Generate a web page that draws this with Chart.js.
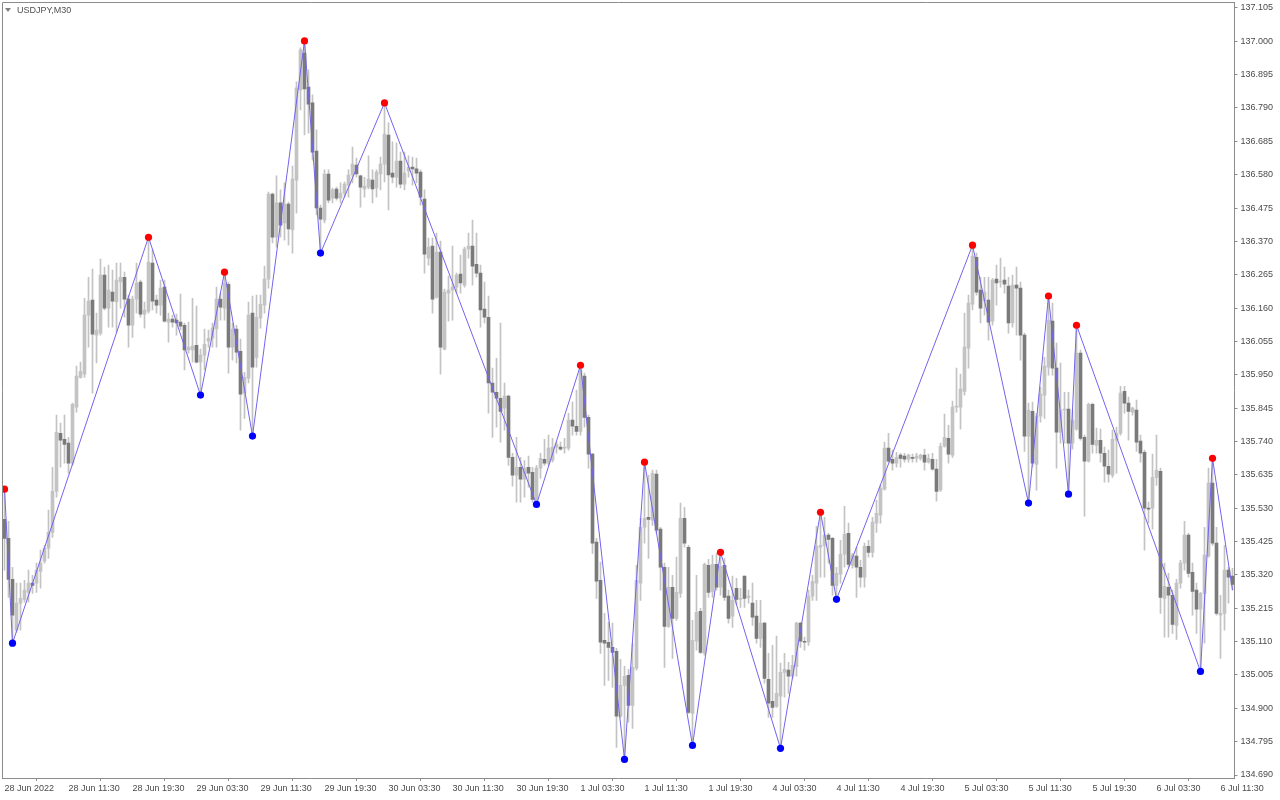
<!DOCTYPE html>
<html>
<head>
<meta charset="utf-8">
<title>USDJPY,M30</title>
<script src="https://cdn.jsdelivr.net/npm/chart.js@4/dist/chart.umd.min.js"></script>
<style>
  html, body { margin: 0; padding: 0; background: #fff; }
  #wrap { position: relative; width: 1280px; height: 800px; overflow: hidden; }
  #chart { display: block; }
  .sym { position: absolute; left: 5px; top: 4px; font: 9px "Liberation Sans", Arial, sans-serif; color: #505050; line-height: 12px; }
  .sym .tri { display: inline-block; width: 0; height: 0; border-left: 3px solid transparent; border-right: 3px solid transparent;
              border-top: 4px solid #808080; margin: 0 6px 1px 0; vertical-align: middle; }
</style>
</head>
<body>
<div id="wrap">
  <canvas id="chart" width="1280" height="800"></canvas>
  <div class="sym"><span class="tri"></span>USDJPY,M30</div>
</div>
<script>
// M30 bars (bar 0 = 28 Jun 2022)
const opens = [
  135.495,135.435,135.306,135.146,135.231,135.243,135.265,135.294,135.294,135.331,
  135.363,135.404,135.454,135.583,135.766,135.747,135.735,135.672,135.848,135.942,
  135.952,136.138,136.185,136.075,136.081,136.264,136.160,136.210,136.179,136.242,
  136.257,136.188,136.106,136.188,136.242,136.141,136.150,136.302,136.185,136.169,
  136.226,136.116,136.125,136.122,136.116,136.106,136.028,136.028,136.043,135.990,
  136.012,136.056,136.065,136.094,136.188,136.160,136.235,136.037,136.094,136.024,
  135.892,135.939,136.144,136.005,136.128,136.169,136.251,136.519,136.383,136.491,
  136.428,136.487,136.406,136.563,136.847,136.963,136.856,136.806,136.654,136.475,
  136.437,136.582,136.506,136.535,136.506,136.522,136.547,136.579,136.610,136.576,
  136.535,136.541,136.563,136.538,136.582,136.613,136.705,136.585,136.572,136.623,
  136.550,136.591,136.604,136.598,136.588,136.503,136.317,136.355,136.194,136.336,
  136.031,136.207,136.217,136.226,136.267,136.232,136.346,136.355,136.298,136.270,
  136.157,136.131,135.924,135.895,135.876,135.845,135.883,135.690,135.634,135.659,
  135.621,135.659,135.643,135.558,135.656,135.684,135.672,135.681,135.722,135.722,
  135.719,135.719,135.807,135.788,135.772,135.946,135.816,135.700,135.423,135.303,
  135.114,135.108,135.092,135.079,134.875,134.972,135.004,134.909,135.026,135.294,
  135.470,135.501,135.492,135.637,135.464,135.344,135.158,135.281,135.183,135.262,
  135.498,135.407,134.884,135.111,135.205,135.073,135.350,135.268,135.353,135.281,
  135.350,135.253,135.190,135.278,135.243,135.316,135.249,135.231,135.190,135.120,
  135.168,134.991,134.922,134.906,134.938,135.013,135.020,135.001,135.032,135.168,
  135.111,135.108,135.253,135.294,135.407,135.413,135.445,135.435,135.287,135.322,
  135.385,135.451,135.350,135.379,135.344,135.313,135.410,135.391,135.483,135.508,
  135.590,135.719,135.684,135.672,135.697,135.694,135.684,135.690,135.687,135.687,
  135.697,135.675,135.684,135.653,135.587,135.725,135.750,135.697,135.848,135.848,
  135.898,136.034,136.172,136.320,136.217,136.182,136.185,136.119,136.251,136.242,
  136.248,136.229,136.113,136.232,136.223,136.075,135.757,135.835,135.668,135.820,
  135.886,135.974,136.119,135.971,135.769,135.839,135.842,135.735,135.779,136.018,
  135.753,135.678,135.857,135.728,135.744,135.703,135.662,135.634,135.744,135.766,
  135.898,135.861,135.832,135.839,135.741,135.706,135.530,135.530,135.627,135.646,
  135.246,135.281,135.256,135.161,135.294,135.357,135.445,135.328,135.272,135.212,
  135.262,135.379,135.609,135.420,135.193,135.199,135.335,135.316
];
const highs = [
  135.590,135.489,135.344,135.294,135.294,135.303,135.335,135.319,135.357,135.398,
  135.413,135.524,135.659,135.823,135.798,135.823,135.753,135.861,135.977,135.990,
  136.191,136.257,136.283,136.144,136.314,136.289,136.295,136.280,136.302,136.302,
  136.273,136.201,136.198,136.302,136.248,136.179,136.383,136.343,136.201,136.248,
  136.248,136.144,136.138,136.141,136.204,136.113,136.116,136.191,136.166,136.031,
  136.094,136.091,136.113,136.226,136.207,136.273,136.242,136.113,136.106,136.062,
  135.958,136.179,136.198,136.201,136.201,136.292,136.525,136.522,136.576,136.532,
  136.554,136.494,136.607,136.872,136.979,137.001,136.910,136.831,136.721,136.484,
  136.595,136.595,136.538,136.541,136.554,136.557,136.595,136.667,136.632,136.579,
  136.572,136.639,136.595,136.595,136.635,136.806,136.743,136.683,136.680,136.651,
  136.651,136.639,136.635,136.632,136.595,136.532,136.380,136.380,136.396,136.371,
  136.220,136.261,136.355,136.270,136.327,136.352,136.396,136.437,136.396,136.295,
  136.242,136.198,135.971,136.002,136.113,135.924,135.886,135.703,135.753,135.690,
  135.681,135.694,135.659,135.665,135.703,135.747,135.760,135.750,135.738,135.738,
  135.750,135.829,135.864,135.902,135.980,135.955,135.823,135.703,135.435,135.360,
  135.199,135.171,135.168,135.089,135.054,135.032,135.023,135.105,135.350,135.498,
  135.675,135.634,135.650,135.650,135.470,135.357,135.344,135.319,135.376,135.546,
  135.533,135.413,135.177,135.319,135.215,135.357,135.369,135.382,135.388,135.391,
  135.372,135.272,135.316,135.309,135.278,135.316,135.272,135.294,135.240,135.240,
  135.171,135.073,135.098,135.127,135.042,135.073,135.045,135.067,135.171,135.171,
  135.124,135.272,135.319,135.473,135.517,135.501,135.451,135.438,135.344,135.429,
  135.536,135.483,135.388,135.407,135.366,135.420,135.429,135.501,135.555,135.602,
  135.738,135.766,135.713,135.706,135.703,135.703,135.700,135.700,135.703,135.700,
  135.716,135.700,135.703,135.684,135.735,135.826,135.791,135.867,135.971,135.952,
  136.144,136.201,136.358,136.333,136.257,136.257,136.257,136.254,136.295,136.317,
  136.289,136.257,136.264,136.289,136.242,136.081,135.861,135.864,135.829,135.911,
  136.005,136.198,136.176,136.050,135.987,135.895,135.895,135.839,136.106,136.028,
  135.760,135.861,135.861,135.782,135.779,135.722,135.713,135.776,135.785,135.914,
  135.914,135.880,135.848,135.870,135.760,135.713,135.549,135.700,135.760,135.656,
  135.357,135.325,135.272,135.306,135.366,135.489,135.451,135.357,135.294,135.265,
  135.470,135.656,135.687,135.470,135.256,135.413,135.344,135.341
];
const lows = [
  135.335,135.249,135.105,135.139,135.146,135.234,135.234,135.262,135.265,135.278,
  135.357,135.372,135.438,135.565,135.659,135.672,135.640,135.665,135.832,135.939,
  135.942,136.037,135.892,135.987,136.075,136.154,136.100,136.100,136.084,136.160,
  136.131,136.037,136.068,136.144,136.131,136.097,136.144,136.154,136.144,136.138,
  136.116,136.053,136.100,136.075,136.091,135.965,136.018,135.990,135.987,135.886,
  135.965,136.037,136.037,136.037,136.122,136.122,135.955,135.996,135.987,135.776,
  135.813,135.924,135.757,135.974,136.097,136.144,136.223,136.365,136.352,136.383,
  136.374,136.358,136.333,136.459,136.784,136.705,136.711,136.626,136.453,136.333,
  136.428,136.491,136.491,136.500,136.491,136.509,136.509,136.554,136.572,136.478,
  136.509,136.535,136.491,136.509,136.532,136.557,136.469,136.554,136.541,136.538,
  136.532,136.572,136.547,136.554,136.484,136.270,136.295,136.144,136.191,135.952,
  136.028,136.119,136.122,136.207,136.207,136.226,136.317,136.232,136.257,136.100,
  136.113,135.829,135.753,135.785,135.738,135.776,135.665,135.599,135.549,135.549,
  135.565,135.596,135.549,135.542,135.624,135.665,135.665,135.675,135.703,135.713,
  135.703,135.713,135.760,135.760,135.760,135.785,135.656,135.388,135.246,135.073,
  134.972,134.988,134.966,134.777,134.871,134.739,134.856,134.837,135.020,135.240,
  135.420,135.372,135.476,135.451,135.272,135.029,135.155,135.057,135.177,135.249,
  135.407,134.884,134.783,135.083,135.073,135.067,135.249,135.249,135.272,135.256,
  135.240,135.168,135.155,135.227,135.218,135.218,135.231,135.161,135.105,135.092,
  134.979,134.871,134.871,134.903,134.774,134.935,134.947,134.994,135.001,135.092,
  135.083,135.098,135.240,135.240,135.313,135.313,135.357,135.256,135.243,135.294,
  135.344,135.344,135.341,135.249,135.281,135.281,135.376,135.376,135.454,135.483,
  135.587,135.675,135.650,135.659,135.659,135.675,135.675,135.675,135.675,135.681,
  135.650,135.672,135.650,135.552,135.583,135.722,135.672,135.690,135.832,135.779,
  135.886,135.971,136.154,136.201,136.113,136.138,136.059,136.106,136.169,136.226,
  136.207,136.081,136.100,136.075,135.996,135.709,135.546,135.659,135.587,135.801,
  135.813,135.949,135.949,135.656,135.735,135.735,135.574,135.716,135.776,135.744,
  135.505,135.675,135.703,135.703,135.675,135.612,135.612,135.627,135.640,135.760,
  135.829,135.744,135.823,135.709,135.675,135.398,135.483,135.464,135.602,135.199,
  135.124,135.124,135.136,135.117,135.278,135.335,135.313,135.193,135.136,135.016,
  135.105,135.376,135.413,135.193,135.057,135.146,135.231,135.272
];
const closes = [
  135.435,135.306,135.193,135.231,135.246,135.272,135.294,135.287,135.335,135.357,
  135.404,135.454,135.583,135.769,135.744,135.731,135.672,135.857,135.946,135.961,
  136.138,136.182,136.078,136.091,136.264,136.160,136.217,136.182,136.248,136.257,
  136.188,136.106,136.188,136.239,136.141,136.154,136.305,136.182,136.169,136.223,
  136.119,136.125,136.116,136.113,136.103,136.028,136.037,136.040,135.990,136.012,
  136.046,136.065,136.097,136.188,136.163,136.239,136.037,136.094,136.021,135.889,
  135.942,136.138,135.974,136.131,136.172,136.251,136.519,136.383,136.491,136.421,
  136.487,136.409,136.566,136.853,136.973,136.850,136.802,136.651,136.475,136.440,
  136.582,136.500,136.532,136.506,136.522,136.550,136.579,136.613,136.582,136.541,
  136.544,136.566,136.535,136.588,136.613,136.708,136.579,136.572,136.623,136.550,
  136.585,136.604,136.598,136.585,136.509,136.330,136.352,136.188,136.336,136.037,
  136.210,136.217,136.226,136.264,136.239,136.346,136.355,136.292,136.270,136.154,
  136.131,135.924,135.895,135.876,135.835,135.883,135.690,135.634,135.659,135.621,
  135.656,135.640,135.558,135.656,135.687,135.672,135.719,135.722,135.731,135.716,
  135.722,135.807,135.788,135.772,135.965,135.816,135.700,135.420,135.300,135.108,
  135.105,135.092,135.076,134.875,134.972,135.001,134.909,135.029,135.303,135.470,
  135.498,135.495,135.640,135.461,135.344,135.158,135.281,135.183,135.265,135.498,
  135.420,134.887,135.114,135.202,135.076,135.353,135.265,135.353,135.281,135.347,
  135.249,135.183,135.240,135.243,135.246,135.246,135.253,135.187,135.120,135.168,
  134.994,134.916,134.903,134.947,135.013,135.023,135.001,135.035,135.168,135.111,
  135.108,135.253,135.300,135.410,135.413,135.445,135.432,135.287,135.325,135.385,
  135.448,135.353,135.382,135.344,135.313,135.410,135.391,135.486,135.514,135.593,
  135.719,135.678,135.672,135.690,135.687,135.684,135.697,135.687,135.694,135.697,
  135.675,135.687,135.653,135.583,135.725,135.753,135.700,135.848,135.851,135.905,
  136.037,136.176,136.324,136.210,136.160,136.210,136.116,136.248,136.239,136.245,
  136.235,136.113,136.232,136.223,136.075,135.757,135.839,135.672,135.820,135.889,
  135.977,136.122,135.971,135.769,135.839,135.842,135.735,135.807,136.018,135.750,
  135.678,135.857,135.731,135.744,135.703,135.662,135.637,135.747,135.766,135.892,
  135.861,135.835,135.845,135.738,135.703,135.530,135.527,135.627,135.650,135.249,
  135.284,135.256,135.164,135.294,135.357,135.445,135.325,135.268,135.212,135.262,
  135.382,135.609,135.420,135.199,135.199,135.335,135.313,135.290
];

// ZigZag turning points: bar index and whether it sits on the bar's high or low
const zzBars  = [0, 2, 36, 49, 55, 62, 75, 79, 95, 133, 144, 155, 160, 172, 179, 194, 204, 208, 242, 256, 261, 266, 268, 299, 302, 307];
const zzSides = ['H','L','H','L','H','L','H','L','H','L','H','L','H','L','H','L','H','L','H','L','H','L','H','L','H','L'];

// axis labels
const timeBars = [0, 16, 32, 48, 64, 80, 96, 112, 128, 144, 160, 176, 192, 208, 224, 240, 256, 272, 288, 304];
const timeLabels = ['28 Jun 2022', '28 Jun 11:30', '28 Jun 19:30', '29 Jun 03:30', '29 Jun 11:30', '29 Jun 19:30',
  '30 Jun 03:30', '30 Jun 11:30', '30 Jun 19:30', '1 Jul 03:30', '1 Jul 11:30', '1 Jul 19:30',
  '4 Jul 03:30', '4 Jul 11:30', '4 Jul 19:30', '5 Jul 03:30', '5 Jul 11:30', '5 Jul 19:30', '6 Jul 03:30', '6 Jul 11:30'];
const priceTicks = [134.690, 134.795, 134.900, 135.005, 135.110, 135.215, 135.320, 135.425, 135.530, 135.635,
  135.740, 135.845, 135.950, 136.055, 136.160, 136.265, 136.370, 136.475, 136.580, 136.685,
  136.790, 136.895, 137.000, 137.105];

const BULL = '#c3c3c3';
const BEAR = '#7a7a7a';
const AXIS = '#8c8c8c';
const FONT = { family: '"Liberation Sans", Arial, sans-serif', size: 9 };

const bodies = opens.map((o, i) => ({ x: i, y: [o, closes[i]] }));
const wicks = lows.map((l, i) => ({ x: i, y: [l, highs[i]] }));
const zigzag = zzBars.map((b, k) => ({ x: b, y: zzSides[k] === 'H' ? highs[b] : lows[b] }));

// left/top edges of the chart window
const framePlugin = {
  id: 'frame',
  afterDraw(chart) {
    const { ctx, chartArea: a } = chart;
    ctx.save();
    ctx.strokeStyle = AXIS;
    ctx.lineWidth = 1;
    ctx.beginPath();
    ctx.moveTo(a.left, a.bottom);
    ctx.lineTo(a.left, a.top);
    ctx.lineTo(a.right, a.top);
    ctx.stroke();
    ctx.restore();
  }
};

// keep tick labels from pushing the plot area inwards
function noOverflow(s) {
  s.paddingTop = 0;
  s.paddingBottom = 0;
  s.paddingLeft = 0;
  s.paddingRight = 0;
}

new Chart(document.getElementById('chart'), {
  data: {
    datasets: [
      {
        type: 'line',
        data: zigzag,
        borderColor: '#7264ee',
        borderWidth: 1,
        tension: 0,
        pointRadius: zigzag.map((p, k) => k === zigzag.length - 1 ? 0 : 3.6),
        pointBackgroundColor: zzSides.map(s => s === 'H' ? '#ff0000' : '#0000ff'),
        pointBorderWidth: 0,
        order: 0
      },
      {
        type: 'bar',
        data: bodies,
        backgroundColor: bodies.map(b => b.y[1] >= b.y[0] ? BULL : BEAR),
        barThickness: 3,
        minBarLength: 1,
        grouped: false,
        order: 1
      },
      {
        type: 'bar',
        data: wicks,
        backgroundColor: BULL,
        barThickness: 1,
        grouped: false,
        order: 2
      }
    ]
  },
  options: {
    responsive: false,
    animation: false,
    devicePixelRatio: 1,
    layout: { autoPadding: false, padding: { left: 2.5, top: 2.5, right: 0, bottom: 0 } },
    plugins: { legend: { display: false }, tooltip: { enabled: false } },
    scales: {
      x: {
        type: 'linear',
        min: -0.5,
        max: 307.5,
        offset: false,
        afterBuildTicks: s => { s.ticks = timeBars.map(v => ({ value: v })); },
        afterFit: s => { s.height = 22; noOverflow(s); },
        ticks: {
          autoSkip: false,
          maxRotation: 0,
          align: 'start',
          padding: 2,
          color: '#4a4a4a',
          font: FONT,
          callback: (v, i) => timeLabels[i]
        },
        grid: { drawOnChartArea: false, tickLength: 3, color: AXIS },
        border: { color: AXIS }
      },
      y: {
        position: 'right',
        min: 134.6806,
        max: 137.122,
        afterBuildTicks: s => { s.ticks = priceTicks.map(v => ({ value: v })); },
        afterFit: s => { s.width = 45.5; noOverflow(s); },
        ticks: {
          padding: 3,
          color: '#4a4a4a',
          font: FONT,
          callback: v => v.toFixed(3)
        },
        grid: { drawOnChartArea: false, tickLength: 3, color: AXIS },
        border: { color: AXIS }
      }
    }
  },
  plugins: [framePlugin]
});
</script>
</body>
</html>
